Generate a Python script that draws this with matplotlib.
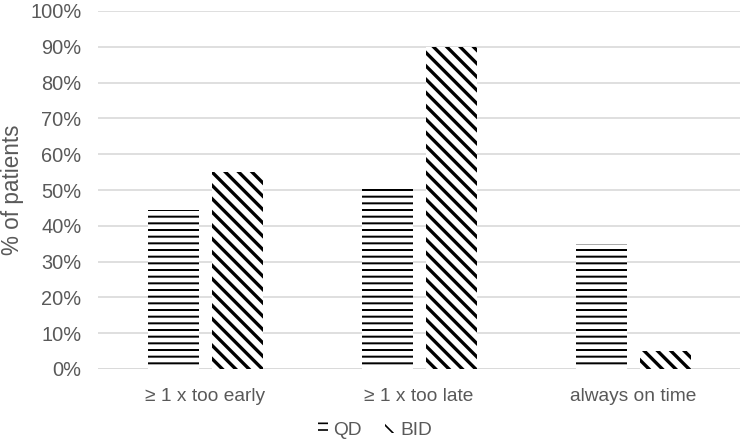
import numpy as np
import matplotlib
matplotlib.use('Agg')
import matplotlib.pyplot as plt

# Daten
categories = ['\u2265 1 x too early', '\u2265 1 x too late', 'always on time']
qd_values = [0.445, 0.51, 0.35]
bid_values = [0.55, 0.90, 0.05]
y_ticks = np.arange(0, 1.01, 0.1)

plt.rcParams['font.family'] = ['Liberation Sans', 'DejaVu Sans']
grey_text = '#595959'

fig = plt.figure(figsize=(6.25, 446 / 120), dpi=120)
ax = fig.add_axes([98 / 750, 1 - 369 / 446, 642 / 750, 358 / 446])

x = np.arange(len(categories))
width = 0.235

with plt.rc_context({'hatch.linewidth': 1.2}):
    ax.bar(x - 0.147, qd_values, width, color='white', edgecolor='black',
           linewidth=0, hatch='---', label='QD', zorder=2)
with plt.rc_context({'hatch.linewidth': 2.0}):
    ax.bar(x + 0.152, bid_values, width, color='white', edgecolor='black',
           linewidth=0, hatch='\\\\\\', label='BID', zorder=2)

ax.set_xlim(-0.5, 2.5)
ax.set_ylim(0, 1.0)
ax.set_yticks(y_ticks)
ax.set_yticklabels([f'{int(round(t * 100))}%' for t in y_ticks])
ax.set_xticks(x)
ax.set_xticklabels(categories)
ax.grid(axis='y', color='#d9d9d9', linewidth=1.0, zorder=0)
ax.set_axisbelow(True)
for s in ['top', 'right', 'left', 'bottom']:
    ax.spines[s].set_visible(False)
ax.axhline(0, color='#d9d9d9', linewidth=1.0, zorder=1)
ax.tick_params(axis='y', length=0, labelsize=12, colors=grey_text, pad=10)
ax.tick_params(axis='x', length=0, labelsize=11.5, colors=grey_text, pad=11.5)

# y-Achsenbeschriftung von Hand platzieren (sonst abgeschnitten)
fig.text(13 / 750, 1 - 190 / 446, '% of patients', rotation=90, ha='center', va='center',
         fontsize=13.5, color=grey_text)

fig.legend(loc='lower center', bbox_to_anchor=(0.5, -0.022), ncol=2, frameon=False,
           fontsize=11.5, handlelength=0.5, handleheight=0.5, handletextpad=0.3,
           columnspacing=1.2, labelcolor=grey_text)

fig.savefig('out.png', dpi=120)
